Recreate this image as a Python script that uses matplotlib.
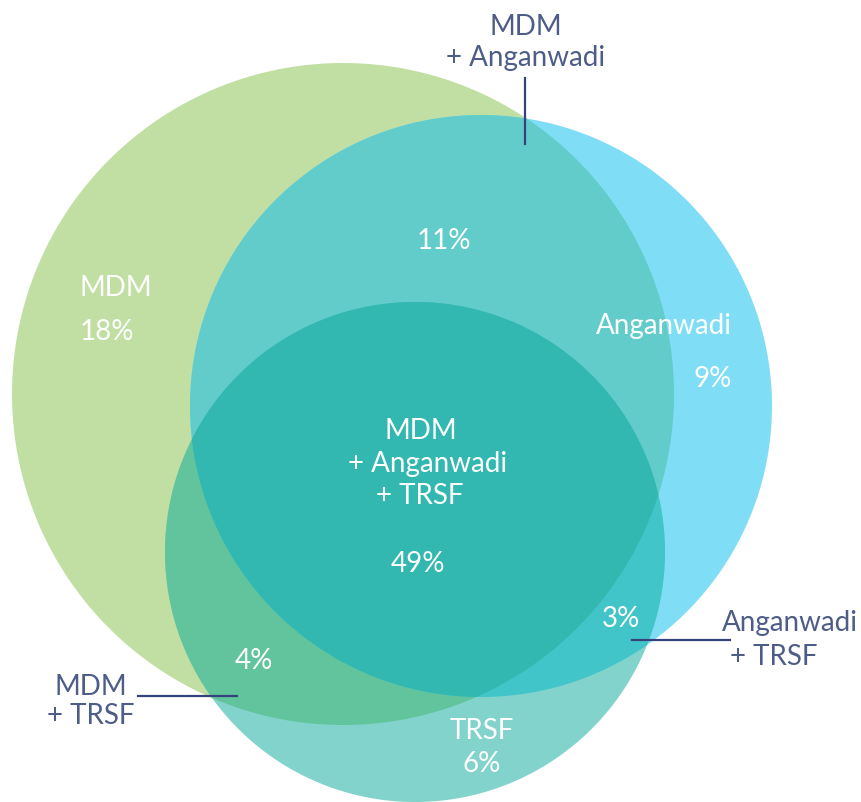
import numpy as np
import matplotlib
matplotlib.use("Agg")
import matplotlib.pyplot as plt
from matplotlib.patches import Polygon

# ---- data ----
sets = ["MDM", "Anganwadi", "TRSF"]
region_labels = ["MDM", "Anganwadi", "TRSF", "MDM + Anganwadi", "MDM + TRSF",
                 "Anganwadi + TRSF", "MDM + Anganwadi + TRSF"]
region_values = [18, 9, 6, 11, 4, 3, 49]

# ---- geometry / style (pixel coordinates, y downward) ----
W, H = 862, 802
circles = {"MDM": (343, 394, 331), "Anganwadi": (481, 406, 291), "TRSF": (415, 552, 250)}
fill = {
    ("MDM",): "#c2dfa3",
    ("Anganwadi",): "#80ddf6",
    ("TRSF",): "#82d3cb",
    ("MDM", "Anganwadi"): "#61ccca",
    ("MDM", "TRSF"): "#62c49c",
    ("Anganwadi", "TRSF"): "#41c5c9",
    ("MDM", "Anganwadi", "TRSF"): "#32b8b0",
}
dark = "#4e5d88"
linec = "#34447a"
FONT = "Lato"


def circ_poly(c, n=720):
    x, y, r = c
    t = np.linspace(0, 2 * np.pi, n, endpoint=False)
    return np.column_stack([x + r * np.cos(t), y + r * np.sin(t)])


def clip(subject, clipper):
    # Sutherland-Hodgman, convex clipper
    def inside(p, a, b):
        return (b[0] - a[0]) * (p[1] - a[1]) - (b[1] - a[1]) * (p[0] - a[0]) >= 0

    def inter(p, q, a, b):
        d1 = q - p
        d2 = b - a
        den = d1[0] * d2[1] - d1[1] * d2[0]
        t = ((a[0] - p[0]) * d2[1] - (a[1] - p[1]) * d2[0]) / den
        return p + t * d1

    out = list(subject)
    for i in range(len(clipper)):
        a, b = clipper[i], clipper[(i + 1) % len(clipper)]
        inp = out
        out = []
        if not inp:
            break
        s = inp[-1]
        for e in inp:
            if inside(e, a, b):
                if not inside(s, a, b):
                    out.append(inter(s, e, a, b))
                out.append(e)
            elif inside(s, a, b):
                out.append(inter(s, e, a, b))
            s = e
    return np.array(out)


fig = plt.figure(figsize=(W / 100, H / 100), dpi=100)
ax = fig.add_axes([0, 0, 1, 1])
ax.set_xlim(0, W)
ax.set_ylim(H, 0)
ax.set_aspect("equal")
ax.axis("off")

polys = {k: circ_poly(v, 360) for k, v in circles.items()}
for combo, col in fill.items():
    p = polys[combo[0]]
    for other in combo[1:]:
        p = clip(p, polys[other])
    ax.add_patch(Polygon(p, closed=True, facecolor=col, edgecolor="none", zorder=len(combo)))

vals = dict(zip(region_labels, region_values))
fs = 20
kw = dict(color="white", fontsize=fs, family=FONT, ha="center", va="center", zorder=10)

ax.text(116, 288, "MDM", **kw)
ax.text(107, 332, f"{vals['MDM']}%", **kw)
ax.text(444, 241, f"{vals['MDM + Anganwadi']}%", **kw)
ax.text(664, 326, "Anganwadi", **kw)
ax.text(713, 379, f"{vals['Anganwadi']}%", **kw)
ax.text(421, 431, "MDM", **kw)
ax.text(428, 464, "+ Anganwadi", **kw)
ax.text(420, 496, "+ TRSF", **kw)
ax.text(418, 564, f"{vals['MDM + Anganwadi + TRSF']}%", **kw)
ax.text(621, 619, f"{vals['Anganwadi + TRSF']}%", **kw)
ax.text(254, 661, f"{vals['MDM + TRSF']}%", **kw)
ax.text(482, 731, "TRSF", **kw)
ax.text(482, 764, f"{vals['TRSF']}%", **kw)

dkw = dict(color=dark, fontsize=fs, family=FONT, va="center", zorder=10)
ax.text(526, 27, "MDM", ha="center", **dkw)
ax.text(526, 58, "+ Anganwadi", ha="center", **dkw)
ax.plot([525, 525], [78, 144], color=linec, lw=1.6, zorder=11)

ax.text(722, 623, "Anganwadi", ha="left", **dkw)
ax.text(730, 657, "+ TRSF", ha="left", **dkw)
ax.plot([632, 730], [640, 640], color=linec, lw=1.6, zorder=11)

ax.text(91, 687, "MDM", ha="center", **dkw)
ax.text(91, 716, "+ TRSF", ha="center", **dkw)
ax.plot([138, 237], [696, 696], color=linec, lw=1.6, zorder=11)

fig.savefig("out.png", dpi=100)
